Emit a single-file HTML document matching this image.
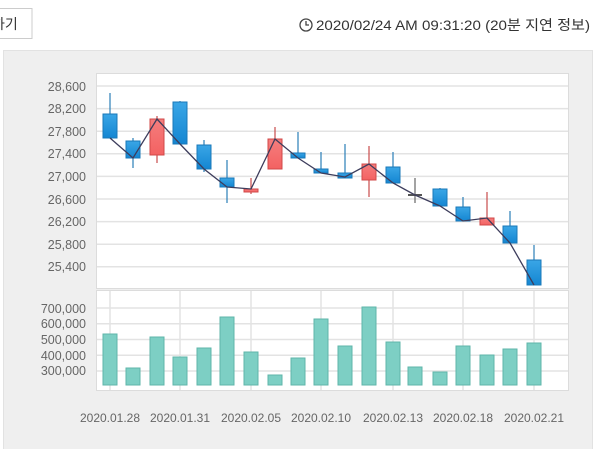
<!DOCTYPE html>
<html><head><meta charset="utf-8"><style>
body{margin:0;width:600px;height:449px;background:#fff;overflow:hidden;font-family:"Liberation Sans","Noto Sans CJK KR",sans-serif}
svg{position:absolute;left:0;top:0}
</style></head><body>
<svg width="600" height="449" xmlns="http://www.w3.org/2000/svg" font-family="Liberation Sans, Noto Sans CJK KR, sans-serif">
<defs>
<linearGradient id="bl" x1="0" y1="0" x2="0" y2="1"><stop offset="0" stop-color="#3aa6e6"/><stop offset="1" stop-color="#1486d2"/></linearGradient>
<linearGradient id="rd" x1="0" y1="0" x2="0" y2="1"><stop offset="0" stop-color="#f57d7d"/><stop offset="1" stop-color="#f36262"/></linearGradient>
</defs>
<rect x="-2" y="8.5" width="34" height="30" fill="#fff" stroke="#ccc"/>
<text x="-8" y="29" font-size="14" fill="#333">하기</text>
<circle cx="306" cy="25" r="6" fill="none" stroke="#444" stroke-width="1.3"/>
<path d="M306 21v4h3" fill="none" stroke="#444" stroke-width="1.3"/>
<text x="316" y="30" font-size="14" fill="#333" textLength="274" lengthAdjust="spacingAndGlyphs">2020/02/24 AM 09:31:20 (20분 지연 정보)</text>
<rect x="3.5" y="50.5" width="589" height="400" fill="#efefef" stroke="#e2e2e2"/>
<rect x="96.5" y="73.5" width="472" height="215" fill="#fff" stroke="#dcdcdc"/>
<rect x="96.5" y="290.5" width="472" height="100" fill="#fff" stroke="#dcdcdc"/>
<g stroke="#e3e3e3" stroke-width="1.5">
<line x1="97" x2="568" y1="86" y2="86"/><line x1="97" x2="568" y1="108.6" y2="108.6"/><line x1="97" x2="568" y1="131.2" y2="131.2"/><line x1="97" x2="568" y1="153.8" y2="153.8"/><line x1="97" x2="568" y1="176.4" y2="176.4"/><line x1="97" x2="568" y1="199" y2="199"/><line x1="97" x2="568" y1="221.6" y2="221.6"/><line x1="97" x2="568" y1="244.2" y2="244.2"/><line x1="97" x2="568" y1="266.8" y2="266.8"/>
<line x1="97" x2="568" y1="308" y2="308"/><line x1="97" x2="568" y1="323.7" y2="323.7"/><line x1="97" x2="568" y1="339.5" y2="339.5"/><line x1="97" x2="568" y1="355.2" y2="355.2"/><line x1="97" x2="568" y1="371" y2="371"/>
<line x1="110" x2="110" y1="291" y2="390"/><line x1="180" x2="180" y1="291" y2="390"/><line x1="251" x2="251" y1="291" y2="390"/><line x1="321" x2="321" y1="291" y2="390"/><line x1="393" x2="393" y1="291" y2="390"/><line x1="463" x2="463" y1="291" y2="390"/><line x1="534" x2="534" y1="291" y2="390"/>
</g>
<g font-size="12.5" fill="#666" text-anchor="end">
<text x="86" y="91">28,600</text><text x="86" y="113">28,200</text><text x="86" y="136">27,800</text><text x="86" y="158">27,400</text><text x="86" y="181">27,000</text><text x="86" y="204">26,600</text><text x="86" y="226">26,200</text><text x="86" y="249">25,800</text><text x="86" y="271">25,400</text>
<text x="86" y="313">700,000</text><text x="86" y="328">600,000</text><text x="86" y="344">500,000</text><text x="86" y="360">400,000</text><text x="86" y="375">300,000</text>
</g>
<g font-size="12" fill="#666" text-anchor="middle">
<text x="110" y="422">2020.01.28</text><text x="180" y="422">2020.01.31</text><text x="251" y="422">2020.02.05</text><text x="321" y="422">2020.02.10</text><text x="393" y="422">2020.02.13</text><text x="463" y="422">2020.02.18</text><text x="534" y="422">2020.02.21</text>
</g>
<g fill="#7dcfc4" stroke="#5fb5aa">
<rect x="103" y="334" width="14" height="51"/><rect x="126" y="368" width="14" height="17"/><rect x="150" y="337" width="14" height="48"/><rect x="173" y="357" width="14" height="28"/><rect x="197" y="348" width="14" height="37"/><rect x="220" y="317" width="14" height="68"/><rect x="244" y="352" width="14" height="33"/><rect x="268" y="375" width="14" height="10"/><rect x="291" y="358" width="14" height="27"/><rect x="314" y="319" width="14" height="66"/><rect x="338" y="346" width="14" height="39"/><rect x="362" y="307" width="14" height="78"/><rect x="386" y="342" width="14" height="43"/><rect x="408" y="367" width="14" height="18"/><rect x="433" y="372" width="14" height="13"/><rect x="456" y="346" width="14" height="39"/><rect x="480" y="355" width="14" height="30"/><rect x="503" y="349" width="14" height="36"/><rect x="527" y="343" width="14" height="42"/>
</g>
<g stroke-width="1.2">
<g stroke="#2a7fb8">
<line x1="110" x2="110" y1="93" y2="138"/><line x1="133" x2="133" y1="138" y2="168"/><line x1="180" x2="180" y1="101" y2="144"/><line x1="204" x2="204" y1="140" y2="172"/><line x1="227" x2="227" y1="160" y2="203"/><line x1="298" x2="298" y1="132" y2="158"/><line x1="321" x2="321" y1="152" y2="173"/><line x1="345" x2="345" y1="144" y2="178"/><line x1="393" x2="393" y1="152" y2="183"/><line x1="440" x2="440" y1="188" y2="206"/><line x1="463" x2="463" y1="197" y2="221"/><line x1="510" x2="510" y1="211" y2="243"/><line x1="534" x2="534" y1="245" y2="285"/>
</g>
<g stroke="#c94b4b">
<line x1="157" x2="157" y1="116" y2="163"/><line x1="251" x2="251" y1="178" y2="194"/><line x1="275" x2="275" y1="127" y2="169"/><line x1="369" x2="369" y1="146" y2="197"/><line x1="487" x2="487" y1="192" y2="225"/>
</g>
<line x1="415" x2="415" y1="178" y2="203" stroke="#666"/>
</g>
<g fill="url(#bl)" stroke="#1a78b8">
<rect x="103" y="114" width="14" height="24"/><rect x="126" y="141" width="14" height="17"/><rect x="173" y="102" width="14" height="42"/><rect x="197" y="145" width="14" height="24"/><rect x="220" y="178" width="14" height="9"/><rect x="291" y="153" width="14" height="5"/><rect x="314" y="169" width="14" height="4"/><rect x="338" y="173" width="14" height="5"/><rect x="386" y="167" width="14" height="16"/><rect x="433" y="189" width="14" height="17"/><rect x="456" y="207" width="14" height="14"/><rect x="503" y="226" width="14" height="17"/><rect x="527" y="260" width="14" height="25"/>
</g>
<g fill="url(#rd)" stroke="#d04848">
<rect x="150" y="119" width="14" height="36"/><rect x="244" y="189" width="14" height="3"/><rect x="268" y="139" width="14" height="30"/><rect x="362" y="164" width="14" height="16"/><rect x="480" y="218" width="14" height="7"/>
</g>
<rect x="408" y="194" width="14" height="2" fill="#555"/>
<polyline fill="none" stroke="#3d3d5c" stroke-width="1.3" points="110,138 133,158 157,119 180,144 204,169 227,187 251,189 275,139 298,158 321,173 345,177 369,164 393,183 415,195 440,206 463,221 487,218 510,243 534,285"/>
</svg>
</body></html>
